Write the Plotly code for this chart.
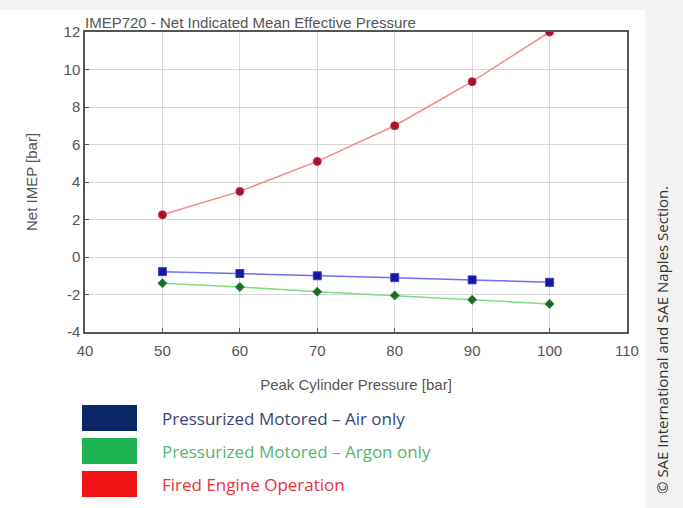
import plotly.graph_objects as go

# Peak cylinder pressure [bar]
pressure = [50, 60, 70, 80, 90, 100]

# Net IMEP [bar] for each operating mode
imep_air = [-0.78, -0.88, -1.0, -1.1, -1.22, -1.35]
imep_argon = [-1.4, -1.6, -1.85, -2.05, -2.28, -2.5]
imep_fired = [2.25, 3.5, 5.1, 7.0, 9.35, 12.0]

legend_labels = [
    "Pressurized Motored \u2013 Air only",
    "Pressurized Motored \u2013 Argon only",
    "Fired Engine Operation",
]
legend_swatch = ["#0c2766", "#1db352", "#f21414"]
legend_text = ["#36467a", "#4fb872", "#e8323a"]

x_ticks = [40, 50, 60, 70, 80, 90, 100, 110]
y_ticks = [-4, -2, 0, 2, 4, 6, 8, 10, 12]
y_tick_text = ["-4", "-2", "0", "2", "4", "6", "8", "10", "12"]

axis_font = dict(family="Liberation Sans, Arial", size=15, color="#555555")

fig = go.Figure()

fig.add_trace(go.Scatter(
    x=pressure, y=imep_air, mode="lines+markers",
    line=dict(color="#6f6ff2", width=1.5),
    marker=dict(symbol="square", size=8, color="#1616a8", line=dict(color="#4040c0", width=1)),
))
fig.add_trace(go.Scatter(
    x=pressure, y=imep_argon, mode="lines+markers",
    line=dict(color="#80dc80", width=1.5),
    marker=dict(symbol="diamond", size=7, color="#1d6b2a", line=dict(color="#3c8a40", width=1)),
))
fig.add_trace(go.Scatter(
    x=pressure, y=imep_fired, mode="lines+markers",
    line=dict(color="#f28a8a", width=1.5),
    marker=dict(symbol="circle", size=8, color="#a8102c", line=dict(color="#c03040", width=1)),
))

shapes = [
    # white page card
    dict(type="rect", xref="paper", yref="paper", x0=-85/542, x1=(645-85)/542,
         y0=-176/300, y1=(332-10)/300, fillcolor="white", line=dict(width=0), layer="below"),
]
annotations = [
    dict(text="IMEP720 - Net Indicated Mean Effective Pressure", xref="paper", yref="paper",
         x=0.0, y=1.0, xanchor="left", yanchor="bottom", showarrow=False,
         font=dict(family="Liberation Sans, Arial", size=15, color="#555555"),
         xshift=-2, yshift=-1),
    dict(text="\u00a9 SAE International and SAE Naples Section.", xref="paper", yref="paper",
         x=(662-85)/542, y=(332-340)/300, textangle=-90, showarrow=False,
         xanchor="center", yanchor="middle",
         font=dict(family="Open Sans", size=15, color="#333333")),
]

# legend swatches and labels
swatch_top = [405, 438, 471]
for i, (label, sc, tc) in enumerate(zip(legend_labels, legend_swatch, legend_text)):
    y_top = swatch_top[i]
    shapes.append(dict(type="rect", xref="paper", yref="paper",
                       x0=(82-85)/542, x1=(137-85)/542,
                       y0=(332-(y_top+26))/300, y1=(332-y_top)/300,
                       fillcolor=sc, line=dict(width=0)))
    annotations.append(dict(text=label, xref="paper", yref="paper",
                            x=(160-85)/542, y=(332-(y_top+13))/300,
                            xanchor="left", yanchor="middle", showarrow=False,
                            font=dict(family="Open Sans", size=17, color=tc)))

fig.update_layout(
    width=683, height=508,
    margin=dict(l=85, r=56, t=32, b=176),
    paper_bgcolor="#f2f2f2",
    plot_bgcolor="white",
    showlegend=False,
    shapes=shapes,
    annotations=annotations,
    xaxis=dict(range=[40, 110], tickvals=x_ticks, showgrid=True, gridcolor="#d8d8d8",
               zeroline=False, showline=True, linecolor="#555555", linewidth=1.5, mirror=True,
               ticks="inside", ticklen=4, tickcolor="#555555", tickfont=axis_font,
               ticklabelstandoff=4,
               title=dict(text="Peak Cylinder Pressure [bar]", font=axis_font, standoff=22)),
    yaxis=dict(range=[-4, 12], tickvals=y_ticks, ticktext=y_tick_text, showgrid=True,
               gridcolor="#d8d8d8",
               zeroline=False, showline=True, linecolor="#555555", linewidth=1.5, mirror=True,
               ticks="inside", ticklen=4, tickcolor="#555555", tickfont=axis_font,
               title=dict(text="Net IMEP [bar]", font=axis_font, standoff=22)),
)

fig.write_html("out.html")
